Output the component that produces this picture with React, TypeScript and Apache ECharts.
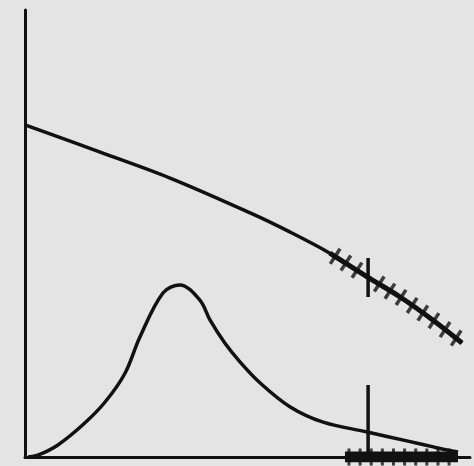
import React, { useEffect, useRef } from "react";
import * as echarts from "echarts";

// Upper curve [x, y] in arbitrary units (0-100)
const upperCurve: number[][] = [
  [0, 74.3], [16.9, 68.2], [32.6, 62.4], [50.6, 54.6], [59.6, 50.3],
  [68.5, 45.6], [76.9, 40.3], [84.3, 35.8], [91.7, 30.6], [98.2, 25.5],
];
// Hatched (thicker) part of upper curve
const upperHatch: number[][] = [
  [68.5, 45.6], [76.9, 40.3], [84.3, 35.8], [91.7, 30.6], [98.2, 25.5],
];
// Cross ticks on upper curve
const upperTicks: number[][] = [
  [69.7, 44.9], [72.1, 43.4], [74.6, 41.8], [79.6, 38.7], [82.0, 37.1],
  [84.5, 35.7], [87.0, 33.9], [89.4, 32.2], [91.9, 30.5], [94.4, 28.5], [96.9, 26.6],
];
// Lower peaked curve
const lowerCurve: number[][] = [
  [0.7, 0], [2.9, 0.4], [7.4, 2.7], [13.0, 7.2], [18.0, 12.3], [22.5, 18.8],
  [25.8, 26.8], [31.0, 36.7], [34.8, 38.5], [39.3, 35.1], [41.6, 30.6],
  [44.9, 25.5], [48.3, 21.3], [52.8, 16.6], [59.6, 11.2], [67.0, 7.8],
  [76.9, 5.6], [85.8, 3.6], [92.0, 2.2], [97.3, 1.1],
];
// Bottom hatched band on x axis
const bottomBand: number[][] = [[71.9, 0], [97.3, 0]];
const bottomTicks: number[][] = [
  [72.8, 0], [75.3, 0], [77.8, 0], [80.3, 0], [82.8, 0], [85.3, 0],
  [87.8, 0], [90.3, 0], [92.8, 0], [95.3, 0],
];
// Vertical marker at x
const markerX = 77.1;
const markerUpper: number[][] = [[markerX, 35.8], [markerX, 44.5]];
const markerLower: number[][] = [[markerX, 0], [markerX, 16.1]];

export default function App() {
  const ref = useRef<HTMLDivElement>(null);
  useEffect(() => {
    if (!ref.current) return;
    const chart = echarts.init(ref.current, undefined, { renderer: "svg" });
    const lineBase = {
      type: "line" as const,
      showSymbol: false,
      symbol: "none",
      silent: true,
      z: 3,
    };
    chart.setOption({
      animation: false,
      backgroundColor: "#e4e4e4",
      grid: { left: 25, right: 4, top: 10, bottom: 9 },
      xAxis: {
        type: "value", min: 0, max: 100,
        axisLine: { show: true, onZero: false, lineStyle: { color: "#111", width: 3 } },
        axisTick: { show: false }, axisLabel: { show: false }, splitLine: { show: false },
      },
      yAxis: {
        type: "value", min: 0, max: 100,
        axisLine: { show: true, onZero: false, lineStyle: { color: "#111", width: 3 } },
        axisTick: { show: false }, axisLabel: { show: false }, splitLine: { show: false },
      },
      series: [
        { ...lineBase, data: upperCurve, smooth: 0.35, lineStyle: { color: "#111", width: 3.5 } },
        { ...lineBase, data: upperHatch, smooth: 0.35, lineStyle: { color: "#111", width: 5 } },
        { ...lineBase, data: lowerCurve, smooth: 0.35, lineStyle: { color: "#111", width: 3.5 } },
        { ...lineBase, data: bottomBand, lineStyle: { color: "#111", width: 11 } },
        { ...lineBase, data: markerUpper, lineStyle: { color: "#111", width: 3.5 } },
        { ...lineBase, data: markerLower, lineStyle: { color: "#111", width: 3.5 } },
        {
          type: "scatter", data: upperTicks, symbol: "rect", symbolSize: [3.5, 18],
          symbolRotate: -33, itemStyle: { color: "#111" }, silent: true, z: 4,
        },
        {
          type: "scatter", data: bottomTicks, symbol: "rect", symbolSize: [3, 17],
          itemStyle: { color: "#111" }, silent: true, z: 4,
        },
      ],
    });
    return () => chart.dispose();
  }, []);
  return (
    <div
      ref={ref}
      style={{ position: "fixed", left: 0, top: 0, width: 474, height: 466 }}
    />
  );
}
